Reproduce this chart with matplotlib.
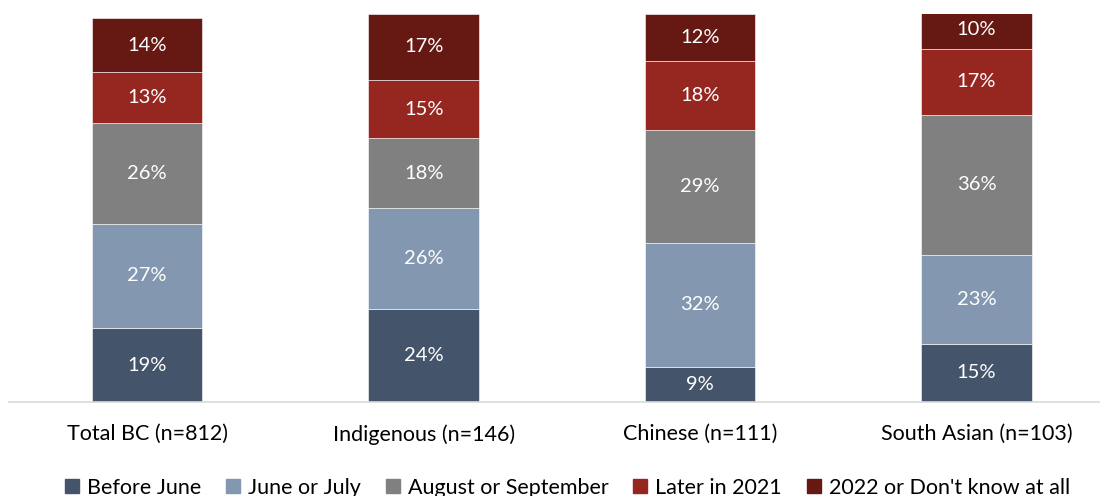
import matplotlib
matplotlib.use("Agg")
import matplotlib.pyplot as plt
from matplotlib.lines import Line2D
import numpy as np

categories = ["Total BC (n=812)", "Indigenous (n=146)", "Chinese (n=111)", "South Asian (n=103)"]
series_names = ["Before June", "June or July", "August or September", "Later in 2021", "2022 or Don't know at all"]
before_june = [19, 24, 9, 15]
june_or_july = [27, 26, 32, 23]
aug_or_sep = [26, 18, 29, 36]
later_2021 = [13, 15, 18, 17]
year_2022_dk = [14, 17, 12, 10]
colors = ["#44546A", "#8497B0", "#808080", "#952620", "#661812"]

plt.rcParams['font.family'] = ['Lato', 'DejaVu Sans']

fig = plt.figure(figsize=(11, 4.96), dpi=100)
ax = fig.add_axes([9 / 1100, 94 / 496, 1091 / 1100, 388 / 496])

x = np.arange(len(categories))
width = 0.40
bottom = np.zeros(len(categories))
all_series = [before_june, june_or_july, aug_or_sep, later_2021, year_2022_dk]
for vals, col in zip(all_series, colors):
    vals = np.array(vals, dtype=float)
    ax.bar(x, vals, width, bottom=bottom, color=col, edgecolor="white", linewidth=0.4)
    for xi, b, v in zip(x, bottom, vals):
        ax.text(xi, b + v / 2, f"{int(v)}%", ha="center", va="center",
                color="white", fontsize=14.5)
    bottom += vals

ax.set_ylim(0, 100)
ax.set_xlim(-0.5, 3.447)
ax.set_yticks([])
ax.set_xticks(x)
ax.set_xticklabels(categories, fontsize=15.5)
ax.tick_params(axis="x", length=0, pad=16)
for side in ["top", "right", "left"]:
    ax.spines[side].set_visible(False)
ax.spines["bottom"].set_color("#D9D9D9")
ax.spines["bottom"].set_linewidth(1.2)

handles = [Line2D([0], [0], marker="s", linestyle="none", markersize=10.5,
                  markerfacecolor=c, markeredgecolor=c) for c in colors]
fig.legend(handles, series_names, loc="center", bbox_to_anchor=(0.515, 8 / 496),
           ncol=5, frameon=False, fontsize=15.5, handletextpad=0.3,
           columnspacing=1.08, handlelength=0.8, borderpad=0)

fig.savefig("out.png", dpi=100)
